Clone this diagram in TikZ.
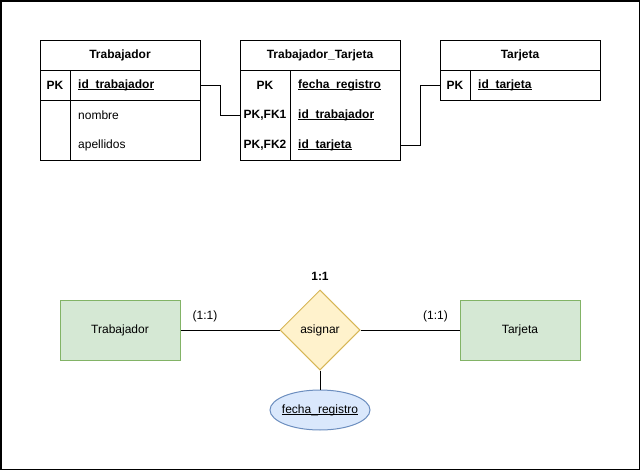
\documentclass[tikz,border=0pt]{standalone}
\usepackage{fontspec}
\setmainfont{Liberation Sans}
\usetikzlibrary{shapes.geometric}
\definecolor{entfill}{HTML}{D5E8D4}
\definecolor{entdraw}{HTML}{82B366}
\definecolor{relfill}{HTML}{FFF2CC}
\definecolor{reldraw}{HTML}{D6B656}
\definecolor{attfill}{HTML}{DAE8FC}
\definecolor{attdraw}{HTML}{6C8EBF}
\newcommand{\ul}[1]{\setbox0\hbox{#1}\rlap{\rule[-1.6pt]{\wd0}{0.9pt}}\box0}
\tikzset{
  tbl/.style={draw=black,line width=1pt,fill=white},
  sep/.style={draw=black,line width=1pt},
  hdr/.style={font=\fontsize{12}{14}\selectfont\bfseries,inner sep=0pt},
  keytxt/.style={font=\fontsize{12}{14}\selectfont\bfseries,inner sep=0pt},
  fld/.style={font=\fontsize{12}{14}\selectfont,inner sep=0pt,anchor=west},
  conn/.style={draw=black,line width=1pt},
  entbox/.style={draw=entdraw,fill=entfill,line width=1pt,minimum width=120pt,minimum height=60pt,inner sep=0pt,font=\fontsize{12}{14}\selectfont},
  relbox/.style={diamond,draw=reldraw,fill=relfill,line width=1pt,minimum width=80pt,minimum height=80pt,inner sep=0pt,aspect=1,font=\fontsize{12}{14}\selectfont},
  attbox/.style={ellipse,draw=attdraw,fill=attfill,line width=1pt,minimum width=100pt,minimum height=40pt,inner sep=0pt,font=\fontsize{12}{14}\selectfont},
  lbl/.style={font=\fontsize{12}{14}\selectfont,inner sep=0pt}
}
\begin{document}
\begin{tikzpicture}[x=1pt,y=-1pt]
\useasboundingbox (0,0) rectangle (641,471);
\draw[line width=1.2pt] (1,1) rectangle (639.5,469.5);

% Trabajador table
\draw[tbl] (40,40) rectangle (200,160);
\draw[sep] (40,70) -- (200,70);
\draw[sep] (40,100) -- (200,100);
\draw[sep] (70,70) -- (70,160);
\node[hdr] (t1h) at (120,55) {Trabajador};
\node[keytxt] (t1k1) at (55,85) {PK};
\node[fld,font=\fontsize{12}{14}\selectfont\bfseries] (t1f1) at (78,85) {\ul{id\_trabajador}};
\node[fld] (t1f2) at (78,115) {nombre};
\node[fld] (t1f3) at (78,145) {apellidos};
\coordinate (t1r) at (200,85);

% Trabajador_Tarjeta table
\draw[tbl] (240,40) rectangle (400,160);
\draw[sep] (240,70) -- (400,70);
\draw[sep] (290,70) -- (290,160);
\node[hdr] (t2h) at (320,55) {Trabajador\_Tarjeta};
\node[keytxt] (t2k1) at (265,85) {PK};
\node[keytxt] (t2k2) at (265,115) {PK,FK1};
\node[keytxt] (t2k3) at (265,145) {PK,FK2};
\node[fld,font=\fontsize{12}{14}\selectfont\bfseries] (t2f1) at (298,85) {\ul{fecha\_registro}};
\node[fld,font=\fontsize{12}{14}\selectfont\bfseries] (t2f2) at (298,115) {\ul{id\_trabajador}};
\node[fld,font=\fontsize{12}{14}\selectfont\bfseries] (t2f3) at (298,145) {\ul{id\_tarjeta}};
\coordinate (t2l) at (240,115);
\coordinate (t2r) at (400,145);

% Tarjeta table
\draw[tbl] (440,40) rectangle (600,100);
\draw[sep] (440,70) -- (600,70);
\draw[sep] (470,70) -- (470,100);
\node[hdr] (t3h) at (520,55) {Tarjeta};
\node[keytxt] (t3k1) at (455,85) {PK};
\node[fld,font=\fontsize{12}{14}\selectfont\bfseries] (t3f1) at (478,85) {\ul{id\_tarjeta}};
\coordinate (t3l) at (440,85);

% table connectors
\draw[conn] (t1r) -- (220,85) -- (220,115) -- (t2l);
\draw[conn] (t2r) -- (420,145) -- (420,85) -- (t3l);

% ER diagram
\node[entbox] (e1) at (120,330) {Trabajador};
\node[entbox] (e2) at (520,330) {Tarjeta};
\node[relbox] (r) at (320,330) {asignar};
\node[attbox] (a) at (320,410) {\makebox[0pt]{\ul{fecha\_registro}}};
\draw[conn] (e1) -- (r);
\draw[conn] (r) -- (e2);
\draw[conn] (r) -- (a);
\node[lbl] (c1) at (205,316.5) {(1:1)};
\node[lbl] (c2) at (435.5,316.5) {(1:1)};
\node[lbl,font=\fontsize{12}{14}\selectfont\bfseries] (c0) at (320,276) {1:1};
\end{tikzpicture}
\end{document}
